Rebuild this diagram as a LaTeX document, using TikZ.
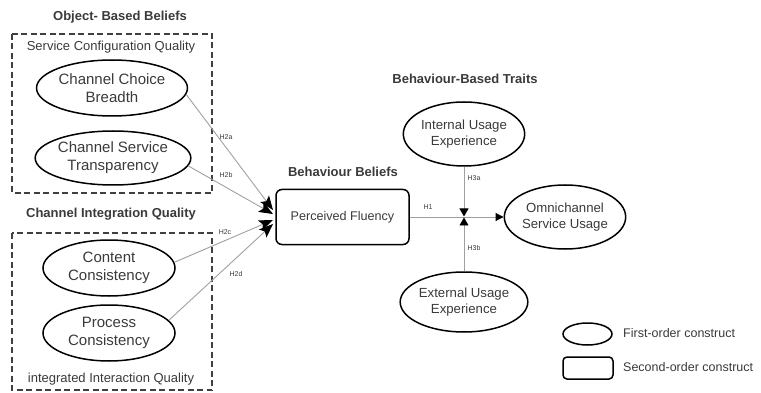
\documentclass[tikz,border=0pt]{standalone}
\usepackage{fontspec}
\setmainfont{Liberation Sans}
\usetikzlibrary{arrows.meta,shapes.geometric}
\definecolor{txt}{HTML}{3A3A3A}
\definecolor{conncol}{HTML}{A0A0A0}
\definecolor{dashcol}{HTML}{404040}
\begin{document}
\begin{tikzpicture}[x=1pt,y=-1pt,
  ell/.style={ellipse,draw=black,line width=1.5pt,inner sep=0pt,align=center,text=txt},
  bigtxt/.style={font=\fontsize{15}{18}\selectfont},
  midtxt/.style={font=\fontsize{13.2}{16}\selectfont},
  title/.style={font=\bfseries\fontsize{13}{15}\selectfont,text=txt},
  sub/.style={font=\fontsize{13}{15}\selectfont,text=txt},
  hlab/.style={font=\fontsize{7}{8}\selectfont,text=txt,inner sep=0pt},
  dbox/.style={draw=dashcol,line width=1.4pt,dash pattern=on 6pt off 3.5pt},
  conn/.style={draw=conncol,line width=0.9pt},
  bigtip/.style={-{Stealth[length=14pt,width=11pt,inset=3pt,color=black]}},
  smalltip/.style={-{Triangle[length=8pt,width=8pt,color=black]}},
  rbox/.style={draw=black,line width=1.5pt,rounded corners=6pt,inner sep=0pt,align=center,text=txt}
]
\useasboundingbox (0,0) rectangle (761,393);

% titles
\node[title] (t-obj) at (120,17) {Object- Based Beliefs};
\node[title] (t-ciq) at (111,214) {Channel Integration Quality};
\node[title] (t-bb) at (343,172) {Behaviour Beliefs};
\node[title] (t-bbt) at (465,79) {Behaviour-Based Traits};

% dashed boxes
\draw[dbox] (12,34) rectangle (212,193);
\draw[dbox] (12,233) rectangle (212,390);
\node[sub] (t-scq) at (111,47) {Service Configuration Quality};
\node[sub] (t-iiq) at (111,379) {integrated Interaction Quality};

% left constructs
\node[ell,bigtxt,minimum width=139pt,minimum height=56pt] (ccb) at (112,88) {Channel Choice\\Breadth};
\node[ell,bigtxt,minimum width=137pt,minimum height=54pt] (cst) at (113,158) {Channel Service\\Transparency};
\node[ell,bigtxt,minimum width=132pt,minimum height=56pt] (cc) at (109,268) {Content\\Consistency};
\node[ell,bigtxt,minimum width=132pt,minimum height=56pt] (pc) at (109,333) {Process\\Consistency};

% perceived fluency
\node[rbox,font=\fontsize{12.6}{15}\selectfont,minimum width=133pt,minimum height=55pt] (pf) at (342.5,217) {Perceived Fluency};

% right constructs
\node[ell,midtxt,minimum width=120pt,minimum height=64pt] (iue) at (464,134) {Internal Usage\\Experience};
\node[ell,midtxt,minimum width=115pt,minimum height=60pt] (eue) at (464,302) {External Usage\\Experience};
\node[ell,midtxt,minimum width=120pt,minimum height=64pt] (om) at (565,217) {Omnichannel\\Service Usage};

% arrow end points at PF
\coordinate (e1) at (273,210);
\coordinate (e2) at (273,214);
\coordinate (e3) at (273,220);
\coordinate (e4) at (273,224);
\coordinate (mt) at (464,216.5);
\coordinate (mb) at (464,217.5);

\draw[conn,bigtip] (ccb.-5) -- (e1);
\draw[conn,bigtip] (cst.-6) -- (e2);
\draw[conn,bigtip] (cc.5) -- (e3);
\draw[conn,bigtip] (pc.12) -- (e4);

\draw[conn,smalltip] (pf.east) -- (om.west);
\draw[conn,-{Triangle[length=8pt,width=9pt,color=black]}] (iue.south) -- (mt);
\draw[conn,-{Triangle[length=8pt,width=9pt,color=black]}] (eue.north) -- (mb);

% hypothesis labels
\node[hlab] (h2a) at (226,137) {H2a};
\node[hlab] (h2b) at (226,175) {H2b};
\node[hlab] (h2c) at (225,232) {H2c};
\node[hlab] (h2d) at (236,274) {H2d};
\node[hlab] (h1) at (428,207) {H1};
\node[hlab] (h3a) at (474,178) {H3a};
\node[hlab] (h3b) at (474,248) {H3b};

% legend
\node[ell,minimum width=49pt,minimum height=22pt] (lg1) at (587.5,334) {};
\node[rbox,rounded corners=4pt,minimum width=50pt,minimum height=22pt] (lg2) at (588,368) {};
\node[anchor=west,font=\fontsize{12.5}{15}\selectfont,text=txt,inner sep=0pt] (lt1) at (623,333) {First-order construct};
\node[anchor=west,font=\fontsize{12.5}{15}\selectfont,text=txt,inner sep=0pt] (lt2) at (623,367) {Second-order construct};
\end{tikzpicture}
\end{document}
